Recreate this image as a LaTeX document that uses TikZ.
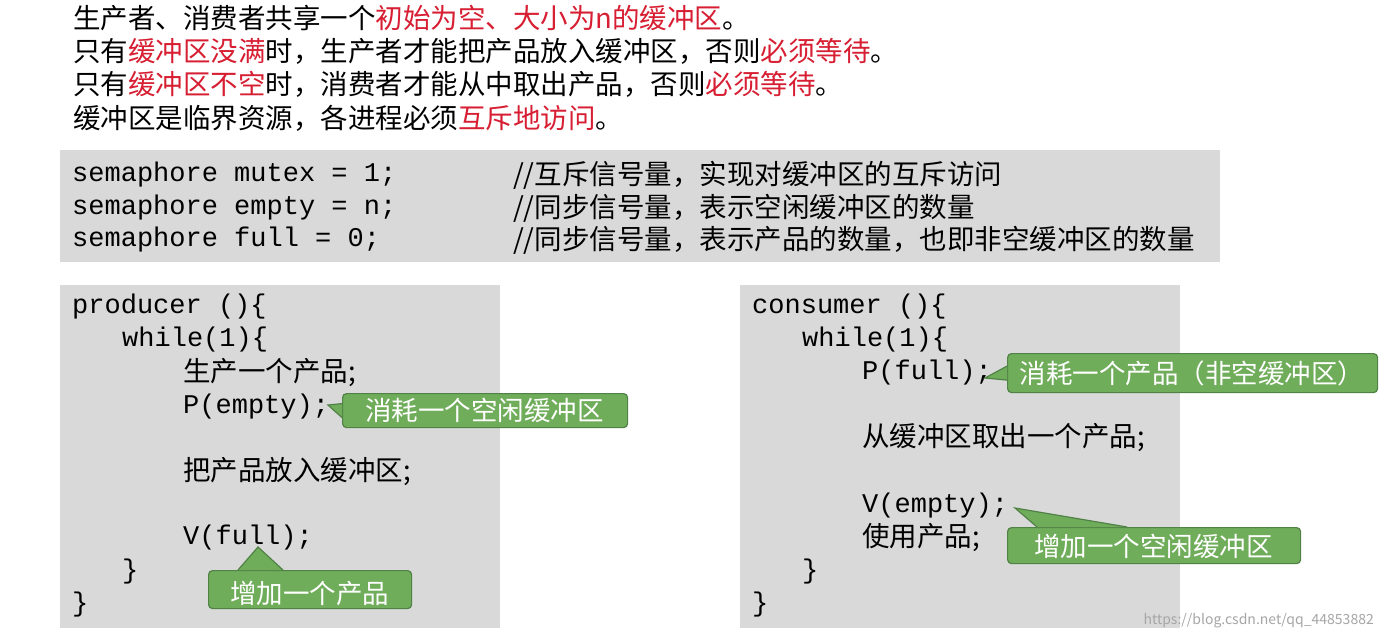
\documentclass[tikz,border=0pt]{standalone}
\usepackage{fontspec}
\setmainfont{Noto Sans CJK SC}
\setmonofont{Liberation Mono}
\definecolor{hl}{RGB}{215,30,50}
\definecolor{codebg}{RGB}{217,217,217}
\definecolor{tipfill}{RGB}{112,173,91}
\definecolor{tipline}{RGB}{80,130,70}
\begin{document}
\begin{tikzpicture}[x=1pt,y=-1pt,
  line/.style={anchor=west,inner sep=0pt,font=\fontsize{27.5}{27.5}\selectfont},
  code/.style={anchor=west,inner sep=0pt,font=\fontsize{27}{27}\ttfamily},
  note/.style={anchor=west,inner sep=0pt,font=\fontsize{27.5}{27.5}\selectfont},
  panel/.style={fill=codebg,draw=none},
  tip/.style={fill=tipfill,draw=tipline,line width=1.2pt,rounded corners=4pt,text=white,
    font=\fontsize{26.5}{26.5}\selectfont,inner sep=0pt,anchor=north west},
  pointer/.style={fill=tipfill,draw=tipline,line width=1.2pt}]
\useasboundingbox (0,0) rectangle (1381,640);
\fill[white] (0,0) rectangle (1381,640);
% intro text
\node[line] (t1) at (73,18) {生产者、消费者共享一个\textcolor{hl}{初始为空、大小为n的缓冲区}。};
\node[line] (t2) at (73,51) {只有\textcolor{hl}{缓冲区没满}时，生产者才能把产品放入缓冲区，否则\textcolor{hl}{必须等待}。};
\node[line] (t3) at (73,84) {只有\textcolor{hl}{缓冲区不空}时，消费者才能从中取出产品，否则\textcolor{hl}{必须等待}。};
\node[line] (t4) at (73,118) {缓冲区是临界资源，各进程必须\textcolor{hl}{互斥地访问}。};
% semaphores
\fill[panel] (60,150) rectangle (1220,262);
\node[code] (s1) at (72,175) {semaphore mutex = 1;};
\node[code] (s2) at (72,208) {semaphore empty = n;};
\node[code] (s3) at (72,240) {semaphore full = 0;};
\node[note] (c1) at (513,175) {//互斥信号量，实现对缓冲区的互斥访问};
\node[note] (c2) at (513,208) {//同步信号量，表示空闲缓冲区的数量};
\node[note] (c3) at (513,240) {//同步信号量，表示产品的数量，也即非空缓冲区的数量};
% producer
\fill[panel] (60,285) rectangle (500,628);
\node[code] (p1) at (72,307) {producer ()\{};
\node[code] (p2) at (122,340) {while(1)\{};
\node[line] (p3) at (183,373) {生产一个产品;};
\node[code] (p4) at (183,407) {P(empty);};
\node[line] (p5) at (183,472) {把产品放入缓冲区;};
\node[code] (p6) at (183,538) {V(full);};
\node[code] (p7) at (122,572) {\}};
\node[code] (p8) at (72,605) {\}};
% consumer
\fill[panel] (740,285) rectangle (1180,628);
\node[code] (q1) at (752,307) {consumer ()\{};
\node[code] (q2) at (802,340) {while(1)\{};
\node[code] (q3) at (862,373) {P(full);};
\node[line] (q4) at (862,438) {从缓冲区取出一个产品;};
\node[code] (q5) at (862,506) {V(empty);};
\node[line] (q6) at (862,538) {使用产品;};
\node[code] (q7) at (802,572) {\}};
\node[code] (q8) at (752,605) {\}};
% callouts
\node[tip,minimum width=285,minimum height=34] (n1) at (342,393) {};
\filldraw[pointer] ([yshift=-7]n1.west) -- (328,405) -- ([yshift=7]n1.west);
\node[tip,minimum width=203,minimum height=38] (n2) at (208,570) {};
\filldraw[pointer] ([xshift=30]n2.north west) -- (258,547) -- ([xshift=75]n2.north west);
\node[tip,minimum width=370,minimum height=39] (n3) at (1007,353) {};
\filldraw[pointer] ([yshift=-7]n3.west) -- (985,378) -- ([yshift=7]n3.west);
\node[tip,minimum width=293,minimum height=36] (n4) at (1007,527) {};
\filldraw[pointer] ([xshift=30]n4.north west) -- (1015,508) -- ([xshift=120]n4.north west);
\node[tip,draw=none,minimum width=280,minimum height=30] (l1) at (344,395) {消耗一个空闲缓冲区};
\node[tip,draw=none,minimum width=198,minimum height=26] (l2) at (210,580) {增加一个产品};
\node[tip,draw=none,minimum width=365,minimum height=26] (l3) at (1009,360) {消耗一个产品（非空缓冲区）};
\node[tip,draw=none,minimum width=288,minimum height=26] (l4) at (1009,533) {增加一个空闲缓冲区};
% watermark
\node[anchor=east,inner sep=0pt,text=gray!70,font=\fontsize{14}{14}\selectfont] (wm) at (1374,621) {https://blog.csdn.net/qq\_44853882};
\end{tikzpicture}
\end{document}
